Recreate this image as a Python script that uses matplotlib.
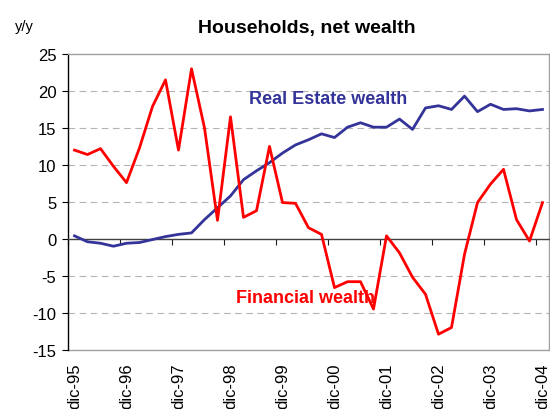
import matplotlib.pyplot as plt
import numpy as np

plt.rcParams['font.family'] = ['Liberation Sans', 'DejaVu Sans']
plt.rcParams['axes.unicode_minus'] = False

# quarterly y/y growth, dic-95 .. dic-04
quarters = np.arange(37)
year_labels = ['dic-95', 'dic-96', 'dic-97', 'dic-98', 'dic-99',
               'dic-00', 'dic-01', 'dic-02', 'dic-03', 'dic-04']
real_estate = [0.4, -0.4, -0.6, -1.0, -0.6, -0.5, -0.1, 0.3, 0.6, 0.8,
               2.6, 4.2, 5.8, 8.0, 9.2, 10.3, 11.6, 12.7, 13.4, 14.2,
               13.7, 15.1, 15.7, 15.1, 15.1, 16.2, 14.8, 17.7, 18.0, 17.5,
               19.3, 17.2, 18.2, 17.5, 17.6, 17.3, 17.5]
financial = [12.0, 11.4, 12.2, 9.8, 7.6, 12.3, 17.9, 21.5, 12.0, 23.0,
             15.0, 2.5, 16.5, 2.9, 3.8, 12.5, 4.9, 4.8, 1.5, 0.6,
             -6.6, -5.8, -5.8, -9.5, 0.4, -1.9, -5.2, -7.5, -12.9, -12.0,
             -2.1, 4.9, 7.4, 9.4, 2.6, -0.3, 4.9]

blue = '#333399'
red = '#ff0000'
grey = '#a0a0a0'

fig = plt.figure(figsize=(5.5, 4.1), dpi=100)
ax = fig.add_axes([68/550, 59.3/410, 481/550, 295.7/410])

ax.plot(quarters, real_estate, color=blue, lw=2.0, zorder=3)
ax.plot(quarters, financial, color=red, lw=2.0, zorder=3)

ax.set_xlim(-0.5, 36.5)
ax.set_ylim(-15, 25)
ax.set_yticks(np.arange(-15, 26, 5))
ax.tick_params(axis='y', direction='out', length=4.3, width=0.8, pad=4, labelsize=12)

# gridlines (not at zero)
for v in [-10, -5, 5, 10, 15, 20]:
    ax.axhline(v, color='#b4b4b4', lw=0.8, ls=(0, (6, 4)), zorder=1)

# zero line carries the category tick marks
ax.spines['bottom'].set_position(('data', 0))
ax.spines['bottom'].set_color('#404040')
ax.spines['bottom'].set_linewidth(1.0)
ax.set_xticks(np.arange(-0.5, 37, 4))
ax.set_xticklabels([])
ax.tick_params(axis='x', direction='out', length=4, width=0.8, color='#202020')

ax.spines['left'].set_color('black')
ax.spines['left'].set_linewidth(1.0)
for s in ['top', 'right']:
    ax.spines[s].set_color(grey)
    ax.spines[s].set_linewidth(1.0)

# labels at the bottom of the plot area
sec = ax.secondary_xaxis('bottom')
sec.set_xticks(quarters[::4])
sec.set_xticklabels(year_labels, rotation=90, fontsize=12, va='top')
sec.tick_params(length=0, pad=9)
sec.spines['bottom'].set_color(grey)
sec.spines['bottom'].set_linewidth(1.0)

ax.text(19.5, 19.0, 'Real Estate wealth', color=blue, fontsize=13,
        fontweight='bold', ha='center', va='center')
ax.text(17.8, -7.9, 'Financial wealth', color=red, fontsize=13,
        fontweight='bold', ha='center', va='center')

fig.text(307/550, 1 - 29/410, 'Households, net wealth', fontsize=14,
         fontweight='bold', ha='center', va='center')
fig.text(15/550, 1 - 27/410, 'y/y', fontsize=10.5, ha='left', va='center')

fig.savefig('out.png', dpi=100)
